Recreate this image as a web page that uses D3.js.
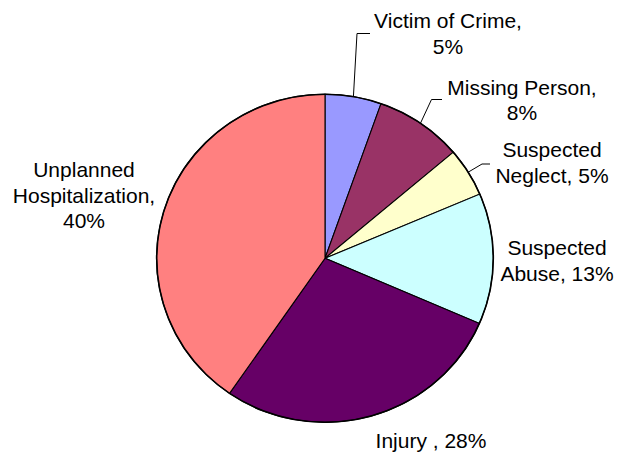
<!DOCTYPE html>
<html>
<head>
<meta charset="utf-8">
<script src="https://cdn.jsdelivr.net/npm/d3@7"></script>
<style>
  html, body { margin: 0; padding: 0; background: #fff; }
  svg { display: block; }
  text { font-family: "Liberation Sans", Arial, sans-serif; font-size: 21px; fill: #000; }
</style>
</head>
<body>
<svg id="chart" width="619" height="453"></svg>
<script>
// ---- data ----
const categories = ["Victim of Crime", "Missing Person", "Suspected Neglect", "Suspected Abuse", "Injury ", "Unplanned Hospitalization"];
const values = [5.4, 8.4, 4.8, 12.9, 28.1, 40.4];
const colors = ["#9999FF", "#993366", "#FFFFCC", "#CCFFFF", "#660066", "#FF8080"];

// ---- layout (positions of labels, not data) ----
const labelLayout = [
  { x: 448, y: 28,  words: [3, 1], elbow: [357, 33.5], end: [370, 33.5] },
  { x: 522, y: 94.5, words: [2, 1], elbow: [431.5, 99.5], end: [442, 99.5] },
  { x: 552, y: 157, words: [1, 2], elbow: [482, 164], end: [490, 164] },
  { x: 557, y: 255, words: [1, 2] },
  { x: 431, y: 448, words: [3] },
  { x: 84,  y: 177, words: [1, 1, 1] }
];
const lineHeight = 25.5;

const cx = 325, cy = 258.3, rx = 168.3, ry = 164;
const svg = d3.select("#chart");
const total = d3.sum(values);

const pie = d3.pie().sort(null).value(d => d)(values);
const arc = d3.arc().innerRadius(0).outerRadius(rx);

const g = svg.append("g").attr("transform", `translate(${cx},${cy}) scale(1,${ry / rx})`);
g.selectAll("path.slice")
  .data(pie)
  .join("path")
  .attr("class", "slice")
  .attr("d", arc)
  .attr("fill", (d, i) => colors[i])
  .attr("stroke", "#000")
  .attr("stroke-width", 1.1)
  .attr("vector-effect", "non-scaling-stroke");

g.append("ellipse")
  .attr("rx", rx).attr("ry", rx)
  .attr("fill", "none")
  .attr("stroke", "#000")
  .attr("stroke-width", 1.6)
  .attr("vector-effect", "non-scaling-stroke");

// leader lines
pie.forEach((d, i) => {
  const L = labelLayout[i];
  if (!L.elbow) return;
  const a = (d.startAngle + d.endAngle) / 2;
  const sx = cx + rx * Math.sin(a);
  const sy = cy - ry * Math.cos(a);
  svg.append("polyline")
    .attr("points", [[sx, sy], L.elbow, L.end].map(p => p.join(",")).join(" "))
    .attr("fill", "none")
    .attr("stroke", "#000")
    .attr("stroke-width", 1);
});

// labels
pie.forEach((d, i) => {
  const L = labelLayout[i];
  const pct = Math.round(values[i] / total * 100);
  const words = (categories[i] + ", " + pct + "%").split(" ");
  const lines = [];
  let k = 0;
  L.words.forEach(n => { lines.push(words.slice(k, k + n).join(" ")); k += n; });
  const t = svg.append("text").attr("text-anchor", "middle");
  lines.forEach((ln, j) => {
    t.append("tspan").attr("x", L.x).attr("y", L.y + j * lineHeight).text(ln);
  });
});
</script>
</body>
</html>
